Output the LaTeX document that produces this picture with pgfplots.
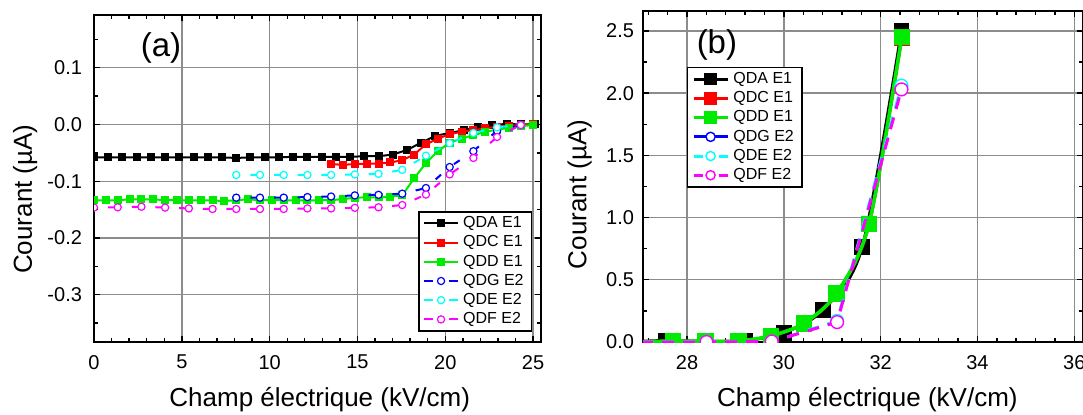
\documentclass[border=0pt]{standalone}
\usepackage{pgfplots}
\pgfplotsset{compat=1.18}
\usepackage{pgfplotstable}
\usepackage{fontspec}
\setmainfont{Liberation Sans}

\definecolor{qgreen}{RGB}{0,235,0}
\definecolor{qcyan}{RGB}{0,255,255}
\definecolor{qmag}{RGB}{255,0,255}
\definecolor{qblue}{RGB}{0,0,255}
\definecolor{qred}{RGB}{255,0,0}

% ---------- panel (a) ----------
\pgfplotstableread{
x y
0.00 -0.058
0.81 -0.058
1.62 -0.058
2.43 -0.058
3.24 -0.058
4.05 -0.058
4.86 -0.058
5.67 -0.058
6.48 -0.058
7.29 -0.058
8.10 -0.059
8.91 -0.058
9.72 -0.058
10.53 -0.058
11.34 -0.057
12.15 -0.057
12.96 -0.057
13.77 -0.057
14.58 -0.057
15.39 -0.056
16.20 -0.056
17.01 -0.053
17.82 -0.045
18.63 -0.032
19.44 -0.020
20.25 -0.015
21.06 -0.010
21.87 -0.004
22.68 -0.001
23.49 0.001
24.30 0.000
25.11 0.000
}\qdaA
\pgfplotstableread{
x y
13.500 -0.070
14.175 -0.071
14.850 -0.070
15.525 -0.069
16.200 -0.069
16.875 -0.067
17.550 -0.063
18.225 -0.053
18.900 -0.035
19.575 -0.025
20.250 -0.017
20.925 -0.013
21.600 -0.010
22.275 -0.007
22.950 -0.004
23.625 -0.002
24.300 -0.001
24.975 0.000
}\qdcA
\pgfplotstableread{
x y
0.000 -0.1335
0.675 -0.134
1.350 -0.1335
2.025 -0.132
2.700 -0.132
3.375 -0.132
4.050 -0.1335
4.725 -0.1335
5.400 -0.134
6.075 -0.1335
6.750 -0.134
7.425 -0.135
8.100 -0.1335
8.775 -0.132
9.450 -0.1335
10.125 -0.1335
10.800 -0.1335
11.475 -0.134
12.150 -0.134
12.825 -0.1335
13.500 -0.1335
14.175 -0.1315
14.850 -0.129
15.525 -0.1285
16.200 -0.1285
16.875 -0.127
17.550 -0.125
18.225 -0.095
18.900 -0.068
19.575 -0.047
20.250 -0.032
20.925 -0.025
21.600 -0.019
22.275 -0.013
22.950 -0.009
23.625 -0.006
24.300 -0.003
24.975 -0.001
}\qddA
\pgfplotstableread{
x y
8.10 -0.129
9.45 -0.129
10.80 -0.129
12.15 -0.128
13.50 -0.127
14.85 -0.125
16.20 -0.124
17.55 -0.122
18.90 -0.112
20.25 -0.075
21.60 -0.047
22.95 -0.011
24.30 -0.001
}\qdgA
\pgfplotstableread{
x y
8.10 -0.089
9.45 -0.089
10.80 -0.089
12.15 -0.089
13.50 -0.089
14.85 -0.088
16.20 -0.087
17.55 -0.080
18.90 -0.055
20.25 -0.033
21.60 -0.015
22.95 -0.005
24.30 -0.001
}\qdeA
\pgfplotstableread{
x y
0.00 -0.1465
1.35 -0.146
2.70 -0.145
4.05 -0.1465
5.40 -0.148
6.75 -0.149
8.10 -0.149
9.45 -0.149
10.80 -0.149
12.15 -0.148
13.50 -0.148
14.85 -0.147
16.20 -0.146
17.55 -0.142
18.90 -0.1235
20.25 -0.088
21.60 -0.059
22.95 -0.022
24.30 -0.001
}\qdfA

% ---------- panel (b) ----------
\pgfplotstableread{
x y
26.76 0.000
27.57 0.012
28.38 0.005
29.19 0.012
30.00 0.075
30.81 0.260
31.62 0.765
32.43 2.500
}\qdaB
\pgfplotstableread{
x y
27.035 0.000
27.710 0.007
28.385 0.004
29.060 0.008
29.735 0.048
30.410 0.148
31.085 0.385
31.760 0.945
32.435 2.440
}\qdcB
\pgfplotstableread{
x y
27.035 0.000
27.710 0.008
28.385 0.005
29.060 0.008
29.735 0.050
30.410 0.150
31.085 0.390
31.760 0.950
32.435 2.450
}\qddB
\pgfplotstableread{
x y
27.05 0.000
28.40 0.000
29.75 0.000
31.10 0.170
32.43 2.060
}\qdeB
\pgfplotstableread{
x y
27.05 0.000
28.40 0.000
29.75 0.004
31.10 0.160
32.43 2.030
}\qdfB

\pgfplotsset{
  base/.style={
    scale only axis,
    axis line style={black, line width=1pt},
    grid=major,
    major grid style={draw=black!45, line width=0.7pt},
    tick align=inside,
    major tick length=3pt,
    minor tick length=2pt,
    tick style={black, line width=0.7pt},
    ticklabel style={font=\fontsize{10}{12}\selectfont},
    xticklabel style={yshift=-3pt},
    label style={font=\fontsize{13}{15}\selectfont},
    clip marker paths=true,
    legend cell align=left,
    legend style={font=\fontsize{8}{9}\selectfont, draw=black, line width=0.7pt, fill=white,
      inner xsep=2pt, inner ysep=1pt,
      nodes={inner ysep=1.1pt, text height=5.8pt, text depth=1.6pt}},
  },
  e2leg/.style={legend image code/.code={
     \draw[##1, dash pattern=on 4.5pt off 8.07pt, dash phase=0pt, mark repeat=2, mark phase=2]
       plot coordinates {(0cm,0cm) (0.3cm,0cm) (0.6cm,0cm)};}},
}

\begin{document}
\begin{tikzpicture}
\path[use as bounding box] (0pt,0pt) rectangle (541.5pt,207pt);

% ================= (a) =================
\begin{axis}[base,
  at={(47pt,36pt)}, anchor=south west,
  width=223.5pt, height=163.5pt,
  xmin=0, xmax=25.45, ymin=-0.3835, ymax=0.193,
  xtick={0,5,10,15,20,25},
  xticklabels={0,5,10,15,20,25},
  ytick={-0.3,-0.2,-0.1,0,0.1},
  yticklabels={-0.3,-0.2,-0.1,0.0,0.1},
  yticklabel style={xshift=-2.5pt},
  minor xtick={1,2,3,4,6,7,8,9,11,12,13,14,16,17,18,19,21,22,23,24},
  minor ytick={-0.35,-0.25,-0.15,-0.05,0.05,0.15},
  xlabel={Champ électrique (kV/cm)},
  ylabel={Courant (µA)},
  xlabel style={at={(axis description cs:0.505,0)}, anchor=center, yshift=-29pt},
  ylabel style={at={(axis description cs:-0.154,0.437)}, anchor=center},
  legend style={at={(0.9805,0.0315)}, anchor=south east},
]
\addplot[black, line width=1pt, mark=square*, mark size=1.5pt] table {\qdaA};
\addlegendentry{QDA E1}
\addplot[qred, line width=1pt, mark=square*, mark size=1.5pt] table {\qdcA};
\addlegendentry{QDC E1}
\addplot[qgreen, line width=1pt, mark=square*, mark size=1.5pt] table {\qddA};
\addlegendentry{QDD E1}
\addplot[qblue, e2leg, line width=1pt, dash pattern=on 3.5pt off 8.34pt, dash phase=4.8pt,
  mark=*, mark size=1.8pt, mark options={solid, fill=white, draw=qblue, line width=0.6pt}] table {\qdgA};
\addlegendentry{QDG E2}
\addplot[qcyan, e2leg, line width=1pt, dash pattern=on 3.5pt off 8.34pt, dash phase=4.8pt,
  mark=*, mark size=1.8pt, mark options={solid, fill=white, draw=qcyan, line width=0.6pt}] table {\qdeA};
\addlegendentry{QDE E2}
\addplot[qmag, e2leg, line width=1pt, dash pattern=on 3.5pt off 8.34pt, dash phase=4.8pt,
  mark=*, mark size=1.8pt, mark options={solid, fill=white, draw=qmag, line width=0.6pt}] table {\qdfA};
\addlegendentry{QDF E2}
\node[font=\fontsize{16.5}{18}\selectfont] at (rel axis cs:0.15,0.9) {(a)};
\end{axis}

% ================= (b) =================
\begin{axis}[base,
  at={(321.5pt,36pt)}, anchor=south west,
  width=220pt, height=165.5pt,
  xmin=27.09, xmax=36.18, ymin=0, ymax=2.66,
  xtick={28,30,32,34,36},
  xticklabels={28,30,32,34,36},
  ytick={0,0.5,1,1.5,2,2.5},
  yticklabels={0.0,0.5,1.0,1.5,2.0,2.5},
  yticklabel style={xshift=-1pt},
  minor xtick={27.2,27.6,28.4,28.8,29.2,29.6,30.4,30.8,31.2,31.6,32.4,32.8,33.2,33.6,34.4,34.8,35.2,35.6},
  minor ytick={0.25,0.75,1.25,1.75,2.25},
  xlabel={Champ électrique (kV/cm)},
  ylabel={Courant (µA)},
  xlabel style={at={(axis description cs:0.51,0)}, anchor=center, yshift=-29pt},
  ylabel style={at={(axis description cs:-0.144,0.446)}, anchor=center},
  legend style={at={(0.1,0.831)}, anchor=north west},
  legend image post style={mark size=2.3pt},
]
\addplot[black, smooth, line width=1.5pt, mark=square*, mark size=3.2pt, mark options={solid}] table {\qdaB};
\addlegendentry{QDA E1}
\addplot[qred, smooth, line width=1.5pt, mark=square*, mark size=3.2pt, mark options={solid}] table {\qdcB};
\addlegendentry{QDC E1}
\addplot[qgreen, smooth, line width=1.8pt, mark=square*, mark size=3.2pt, mark options={solid}] table {\qddB};
\addlegendentry{QDD E1}
\addlegendimage{qblue, line width=1.5pt, mark=*, mark size=3.2pt, mark options={solid, fill=white, draw=qblue, line width=0.7pt}}
\addlegendentry{QDG E2}
\addplot[qcyan, e2leg, line width=1.5pt, dash pattern=on 6pt off 4.5pt,
  mark=*, mark size=3.2pt, mark options={solid, fill=white, draw=qcyan, line width=0.7pt}] table {\qdeB};
\addlegendentry{QDE E2}
\addplot[qmag, e2leg, line width=1.5pt, dash pattern=on 6pt off 4.5pt,
  mark=*, mark size=3.2pt, mark options={solid, fill=white, draw=qmag, line width=0.7pt}] table {\qdfB};
\addlegendentry{QDF E2}
\node[font=\fontsize{16.5}{18}\selectfont] at (rel axis cs:0.168,0.897) {(b)};
\end{axis}
\end{tikzpicture}
\end{document}
